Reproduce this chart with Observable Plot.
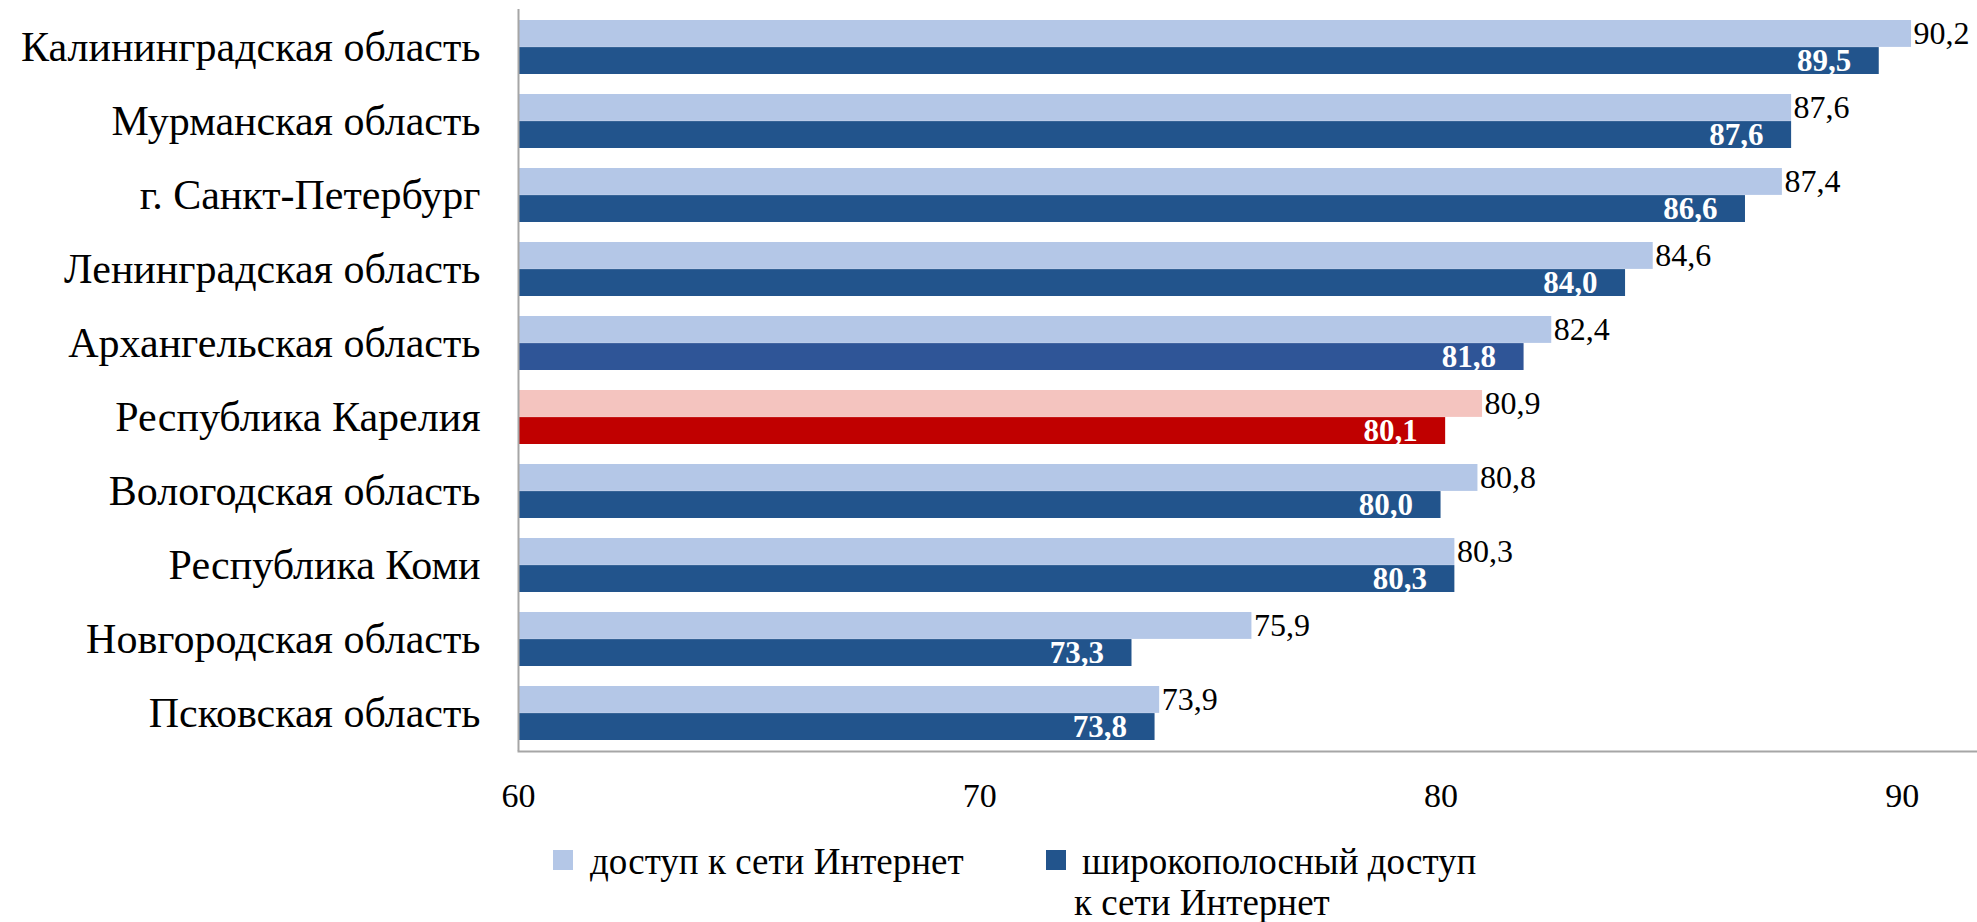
<!DOCTYPE html>
<html><head><meta charset="utf-8">
<script src="https://cdn.jsdelivr.net/npm/d3@7"></script>
<script src="https://cdn.jsdelivr.net/npm/@observablehq/plot@0.6"></script>
<style>
body{margin:0;background:#fff;font-family:'Liberation Serif',serif;}
#legend{position:relative;width:1977px;height:92px;font-family:'Liberation Serif',serif;}
.sw{position:absolute;width:20px;height:20px;}
.lt{position:absolute;font-size:37px;line-height:41px;color:#000;white-space:nowrap;font-family:'Liberation Serif',serif;}
svg text{font-family:'Liberation Serif',serif;}
</style></head><body><div id="chart"></div><div id="legend"></div>
<script>
// ---- data ----
const regions = [
  "Калининградская область",
  "Мурманская область",
  "г. Санкт-Петербург",
  "Ленинградская область",
  "Архангельская область",
  "Республика Карелия",
  "Вологодская область",
  "Республика Коми",
  "Новгородская область",
  "Псковская область"
];
const internet  = [90.2, 87.6, 87.4, 84.6, 82.4, 80.9, 80.8, 80.3, 75.9, 73.9];
const broadband = [89.5, 87.6, 86.6, 84.0, 81.8, 80.1, 80.0, 80.3, 73.3, 73.8];
const xTicks = [60, 70, 80, 90];
const seriesNames = ["доступ к сети Интернет", "широкополосный доступ", "к сети Интернет"];
const highlight = "Республика Карелия";
const accent = "Архангельская область";

// ---- styles ----
const FONT = "'Liberation Serif', serif";
const LIGHT = "#B4C7E7", DARK = "#22548C", ACCENT_DARK = "#2F5597", HL_LIGHT = "#F4C4BF", HL_DARK = "#C00000";
const lightColor = r => r === highlight ? HL_LIGHT : LIGHT;
const darkColor = r => r === highlight ? HL_DARK : (r === accent ? ACCENT_DARK : DARK);
const fmt = v => d3.format(".1f")(v).replace(".", ",");

const data = regions.map((r, i) => ({region: r, internet: internet[i], broadband: broadband[i]}));

const W = 1977, H = 830, mT = 9, mB = 79;
const step = (H - mT - mB) / regions.length;
const pad = 10;
const half = (step - 2 * pad) / 2;
const off = half / 2;

const chart = Plot.plot({
  width: W, height: H,
  marginLeft: 518, marginRight: 0, marginTop: mT, marginBottom: mB,
  x: {domain: [xTicks[0], 91.63]},
  y: {domain: regions, padding: 0},
  color: {type: "identity"},
  style: {fontFamily: FONT, background: "white", color: "black", overflow: "visible"},
  marks: [
    Plot.barX(data, {x1: xTicks[0], x2: "internet", y: "region", fill: d => lightColor(d.region), insetTop: pad, insetBottom: pad + half}),
    Plot.barX(data, {x1: xTicks[0], x2: "broadband", y: "region", fill: d => darkColor(d.region), insetTop: pad + half, insetBottom: pad}),
    Plot.text(data, {x: "internet", y: "region", text: d => fmt(d.internet), textAnchor: "start", dx: 2, dy: -off, fontSize: 32, fontFamily: FONT, fill: "black"}),
    Plot.text(data, {x: "broadband", y: "region", text: d => fmt(d.broadband), textAnchor: "end", dx: -28, dy: off, fontSize: 31, fontFamily: FONT, fontWeight: "bold", fill: "white"}),
    Plot.ruleX([xTicks[0]], {stroke: "#A6A6A6", strokeWidth: 2}),
    Plot.frame({anchor: "bottom", stroke: "#A6A6A6", strokeWidth: 2}),
    Plot.axisY({tickSize: 0, tickPadding: 38, fontSize: 42, fontFamily: FONT, label: null}),
    Plot.axisX({ticks: xTicks, tickSize: 0, tickPadding: 31, fontSize: 34, fontFamily: FONT, label: null, tickFormat: d => String(d)})
  ]
});
document.getElementById("chart").appendChild(chart);

// ---- legend ----
const lg = document.getElementById("legend");
function add(cls, css, txt) {
  const e = document.createElement("div");
  e.className = cls;
  Object.assign(e.style, css);
  if (txt) e.textContent = txt;
  lg.appendChild(e);
}
add("sw", {left: "553px", top: "20px", background: LIGHT});
add("lt", {left: "590px", top: "11px"}, seriesNames[0]);
add("sw", {left: "1046px", top: "20px", background: DARK});
add("lt", {left: "1082px", top: "11px"}, seriesNames[1]);
add("lt", {left: "1074px", top: "52px"}, seriesNames[2]);
</script>
</body></html>
